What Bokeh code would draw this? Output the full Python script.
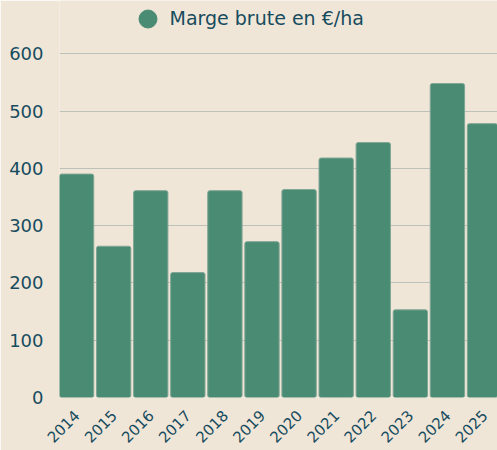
import math
from bokeh.plotting import figure
from bokeh.models import ColumnDataSource, FixedTicker, Range1d, Legend, LegendItem
from bokeh.embed import file_html
from bokeh.resources import INLINE

years = ["2014", "2015", "2016", "2017", "2018", "2019", "2020", "2021", "2022", "2023", "2024", "2025"]
marge = [390, 264, 361, 218, 361, 272, 363, 418, 445, 153, 548, 478]
y_ticks = [0, 100, 200, 300, 400, 500, 600]
series_name = "Marge brute en €/ha"

BG = "#f0e6d8"
BAR = "#4a8b73"
TXT = "#174c5e"
GRID = "#bcc1ba"
FONT = "DejaVu Sans"

xs = list(range(len(years)))
src = ColumnDataSource(dict(x=xs, top=marge, year=years))

p = figure(width=497, height=450, output_backend="svg", toolbar_location=None,
           x_range=Range1d(-0.46, 11.35), y_range=Range1d(0, 693),
           background_fill_color=BG, border_fill_color=BG, outline_line_color=None,
           min_border_left=59, min_border_right=0, min_border_top=0, min_border_bottom=52)

r = p.vbar(x="x", top="top", width=0.925, source=src, fill_color=BAR,
           line_color="#7fa594", line_width=1, border_radius=2)

dot = p.scatter(x="x", y="top", source=src, marker="circle", size=18,
                fill_color=BAR, line_color=BAR, visible=False)

p.xaxis.ticker = FixedTicker(ticks=xs)
p.xaxis.major_label_overrides = {i: y for i, y in zip(xs, years)}
p.xaxis.major_label_orientation = math.pi / 4
p.yaxis.ticker = FixedTicker(ticks=y_ticks)

for ax in (p.xaxis[0], p.yaxis[0]):
    ax.axis_line_color = None
    ax.major_tick_line_color = None
    ax.minor_tick_line_color = None
    ax.major_label_text_color = TXT
    ax.major_label_text_font = FONT
p.yaxis.major_label_text_font_size = "18px"
p.yaxis.major_label_standoff = 10
p.xaxis.major_label_text_font_size = "15px"
p.xaxis.major_label_standoff = 9

p.xgrid.grid_line_color = None
p.ygrid.grid_line_color = GRID
p.ygrid.grid_line_width = 1
p.ygrid.ticker = FixedTicker(ticks=y_ticks[1:])

legend = Legend(items=[LegendItem(label=series_name, renderers=[dot])],
                location=(65.5, 356.5), orientation="horizontal",
                glyph_width=45, glyph_height=45, label_standoff=-9,
                padding=0, margin=0, spacing=0, click_policy="none",
                border_line_color=None, background_fill_alpha=0,
                label_text_color=TXT, label_text_font=FONT, label_text_font_size="19px")
p.add_layout(legend, "center")

open("out.html", "w").write(file_html(p, INLINE))
